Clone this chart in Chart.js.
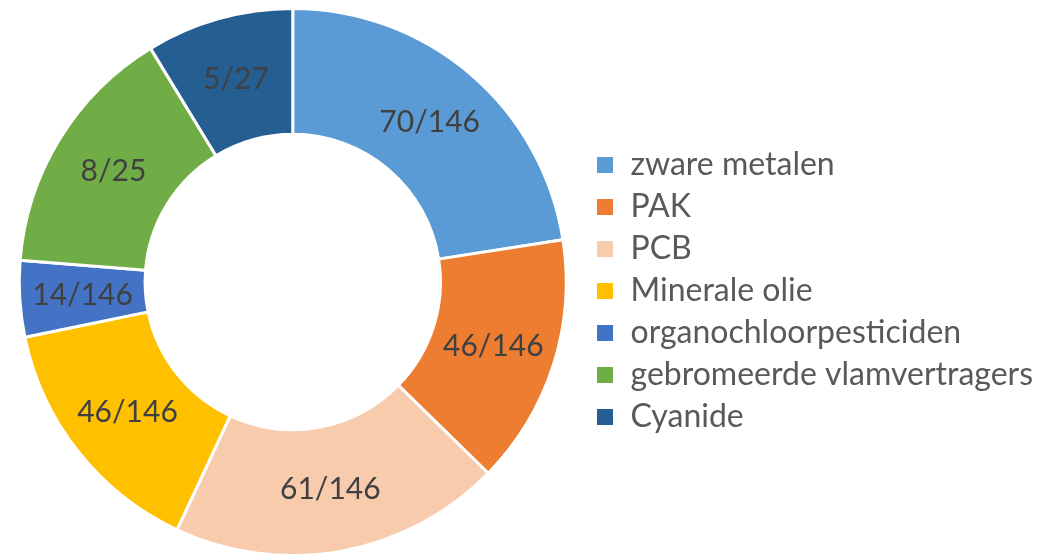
<!DOCTYPE html>
<html>
<head>
<meta charset="utf-8">
<script src="https://cdn.jsdelivr.net/npm/chart.js@4/dist/chart.umd.min.js"></script>
<style>
    html, body { margin: 0; padding: 0; background: #ffffff; }
    #wrap { width: 1064px; height: 560px; position: relative; }
</style>
</head>
<body>
<div id="wrap"><canvas id="donut"></canvas></div>
<script>
// categories and values (found / tested)
const categories = [
    "zware metalen",
    "PAK",
    "PCB",
    "Minerale olie",
    "organochloorpesticiden",
    "gebromeerde vlamvertragers",
    "Cyanide"
];
const found = [70, 46, 61, 46, 14, 8, 5];
const tested = [146, 146, 146, 146, 146, 25, 27];
const sliceColors = ["#5B9BD5", "#ED7D31", "#F8CBAD", "#FFC000", "#4472C4", "#70AD47", "#255E91"];

const shares = found.map((f, i) => f / tested[i]);
const sliceLabels = found.map((f, i) => f + "/" + tested[i]);

// ratio text in the middle of every slice
const sliceText = {
    id: "sliceText",
    afterDatasetsDraw(chart) {
        const ctx = chart.ctx;
        const meta = chart.getDatasetMeta(0);
        ctx.save();
        ctx.font = "30px Lato";
        ctx.fillStyle = "#404040";
        ctx.textAlign = "center";
        ctx.textBaseline = "middle";
        meta.data.forEach((arc, i) => {
            const p = arc.tooltipPosition();
            ctx.fillText(sliceLabels[i], p.x, p.y);
        });
        ctx.restore();
    }
};

document.addEventListener("DOMContentLoaded", () => {

    const ctx = document.getElementById("donut").getContext("2d");

    new Chart(ctx, {
        type: "doughnut",
        data: {
            labels: categories,
            datasets: [{
                data: shares,
                backgroundColor: sliceColors,
                borderColor: "#ffffff",
                borderWidth: 3
            }]
        },
        options: {
            responsive: true,
            maintainAspectRatio: false,
            animation: false,
            cutout: "54%",
            layout: {
                padding: { left: 0, right: 21, top: 7, bottom: 3 }
            },
            plugins: {
                tooltip: { enabled: false },
                legend: {
                    position: "right",
                    title: {
                        display: true,
                        text: " ",
                        padding: 0,
                        font: { size: 15 }
                    },
                    labels: {
                        boxWidth: 19,
                        boxHeight: 19,
                        padding: 10,
                        color: "#595959",
                        font: { family: "Lato", size: 32 }
                    }
                }
            }
        },
        plugins: [sliceText]
    });

});
</script>
</body>
</html>
